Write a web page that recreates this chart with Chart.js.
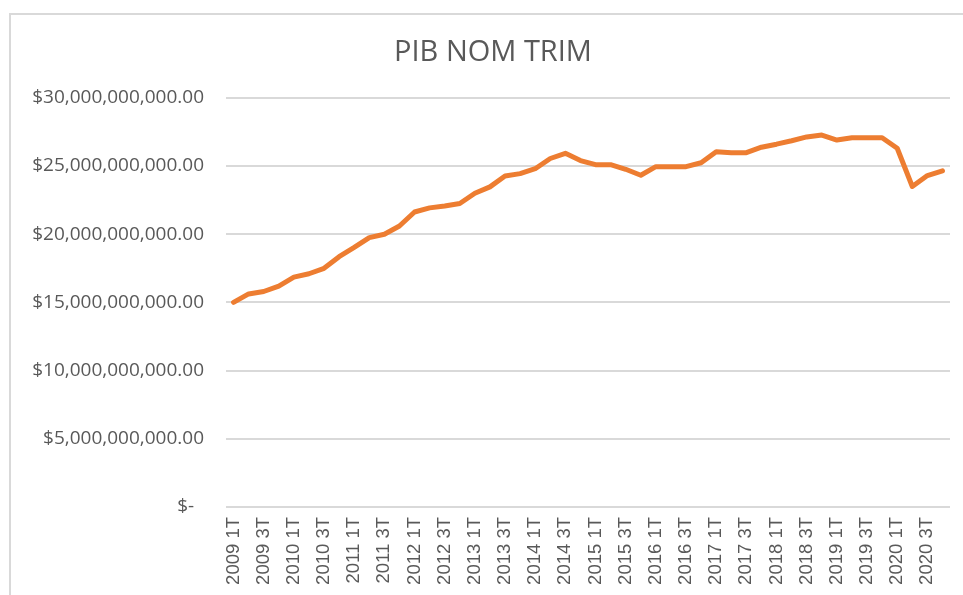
<!DOCTYPE html>
<html>
<head>
<meta charset="utf-8">
<script src="https://cdn.jsdelivr.net/npm/chart.js@4/dist/chart.umd.min.js"></script>
<style>
  html, body { margin: 0; padding: 0; background: #ffffff; overflow: hidden; }
  #wrap { position: relative; width: 963px; height: 595px; }
  #frame { position: absolute; left: 9px; top: 13px; width: 980px; height: 620px; border: 2px solid #d9d9d9; box-sizing: border-box; pointer-events: none; }
  canvas { position: absolute; left: 0; top: 0; }
</style>
</head>
<body>
<div id="wrap">
  <div id="frame"></div>
  <canvas id="c" width="963" height="595"></canvas>
</div>
<script>
const chartTitle = "PIB NOM TRIM";

const quarters = [
  "2009 1T","2009 2T","2009 3T","2009 4T",
  "2010 1T","2010 2T","2010 3T","2010 4T",
  "2011 1T","2011 2T","2011 3T","2011 4T",
  "2012 1T","2012 2T","2012 3T","2012 4T",
  "2013 1T","2013 2T","2013 3T","2013 4T",
  "2014 1T","2014 2T","2014 3T","2014 4T",
  "2015 1T","2015 2T","2015 3T","2015 4T",
  "2016 1T","2016 2T","2016 3T","2016 4T",
  "2017 1T","2017 2T","2017 3T","2017 4T",
  "2018 1T","2018 2T","2018 3T","2018 4T",
  "2019 1T","2019 2T","2019 3T","2019 4T",
  "2020 1T","2020 2T","2020 3T","2020 4T"
];

const pibNominal = [
  15.00e9, 15.62e9, 15.80e9, 16.20e9,
  16.85e9, 17.10e9, 17.50e9, 18.35e9,
  19.03e9, 19.75e9, 20.00e9, 20.60e9,
  21.63e9, 21.93e9, 22.07e9, 22.25e9,
  23.00e9, 23.47e9, 24.27e9, 24.44e9,
  24.80e9, 25.55e9, 25.93e9, 25.40e9,
  25.10e9, 25.10e9, 24.76e9, 24.32e9,
  24.95e9, 24.95e9, 24.95e9, 25.24e9,
  26.05e9, 25.98e9, 25.98e9, 26.38e9,
  26.60e9, 26.85e9, 27.13e9, 27.27e9,
  26.90e9, 27.07e9, 27.07e9, 27.07e9,
  26.30e9, 23.50e9, 24.30e9, 24.65e9
];

const yTickValues = [0, 5e9, 10e9, 15e9, 20e9, 25e9, 30e9];

function fmtMoney(v) {
  if (v === 0) return "$-  ";
  return "$" + v.toLocaleString("en-US", { minimumFractionDigits: 2, maximumFractionDigits: 2 });
}

const gray = "#595959";

new Chart(document.getElementById("c"), {
  type: "line",
  data: {
    labels: quarters,
    datasets: [{
      label: chartTitle,
      data: pibNominal,
      borderColor: "#ED7D31",
      backgroundColor: "#ED7D31",
      borderWidth: 5,
      pointRadius: 0,
      pointHoverRadius: 0,
      tension: 0,
      borderJoinStyle: "round",
      borderCapStyle: "round",
      fill: false
    }]
  },
  options: {
    responsive: false,
    animation: false,
    layout: { padding: { left: 23, right: 0, top: 0, bottom: 0 } },
    plugins: {
      legend: { display: false },
      tooltip: { enabled: false },
      title: {
        display: true,
        text: chartTitle,
        color: gray,
        font: { family: "'Open Sans', sans-serif", size: 29, weight: "normal" },
        padding: { top: 35, bottom: 28 }
      }
    },
    scales: {
      x: {
        type: "category",
        offset: true,
        grid: { display: false, drawTicks: false },
        border: { display: false },
        ticks: {
          autoSkip: false,
          minRotation: 90,
          maxRotation: 90,
          padding: 10,
          color: gray,
          font: { family: "'Liberation Sans', Arial, sans-serif", size: 18.5 },
          callback: function (value, index) {
            return index % 2 === 0 ? quarters[index] : "";
          }
        },
        afterFit: function (s) { s.height = 88; s.paddingLeft = 0; s.paddingRight = 0; }
      },
      y: {
        min: 0,
        max: 30e9,
        position: "left",
        afterBuildTicks: function (s) { s.ticks = yTickValues.map(v => ({ value: v })); },
        grid: { color: "#d9d9d9", lineWidth: 2, drawTicks: false },
        border: { display: false },
        ticks: {
          padding: 22,
          color: gray,
          font: { family: "'Open Sans', sans-serif", size: 19 },
          callback: function (v) { return fmtMoney(v); }
        },
        afterFit: function (s) { s.width = 203; }
      },
      yRight: {
        position: "right",
        display: true,
        min: 0,
        max: 30e9,
        grid: { display: false, drawTicks: false },
        border: { display: false },
        ticks: { display: false },
        afterFit: function (s) { s.width = 13; }
      }
    }
  }
});
</script>
</body>
</html>
